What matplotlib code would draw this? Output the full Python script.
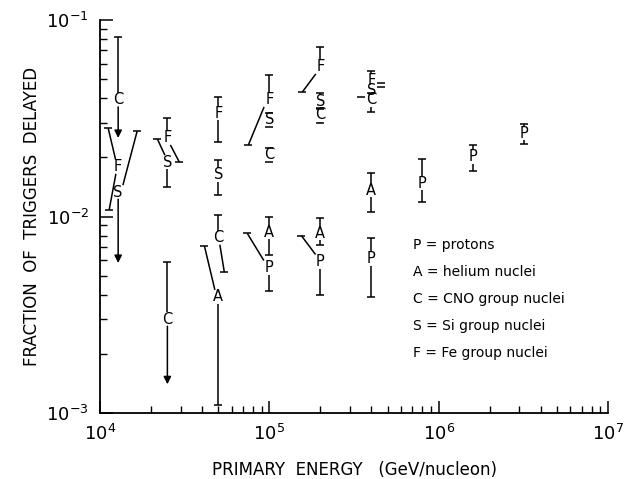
import numpy as np
import matplotlib.pyplot as plt

# one entry per plotted letter: species, energy (GeV/nucleon), fraction and its bounds
letters = ["C", "F", "S",
           "F", "S", "C",
           "F", "S", "C", "A",
           "F", "S", "C", "A", "P",
           "F", "S", "C", "A", "P",
           "F", "S", "C", "A", "P",
           "P", "P", "P"]
energy = [1.28e4, 1.28e4, 1.28e4,
          2.5e4, 2.5e4, 2.5e4,
          5e4, 5e4, 5e4, 5e4,
          1e5, 1e5, 1e5, 1e5, 1e5,
          2e5, 2e5, 2e5, 2e5, 2e5,
          4e5, 4e5, 4e5, 4e5, 4e5,
          8e5, 1.6e6, 3.2e6]
value = [0.0392, 0.0179, 0.0133,
         0.0251, 0.0189, 0.0030,
         0.0336, 0.0163, 0.0078, 0.0039,
         0.0392, 0.0310, 0.0206, 0.0083, 0.0055,
         0.0577, 0.0383, 0.0329, 0.0082, 0.0059,
         0.0495, 0.0440, 0.0392, 0.0136, 0.0061,
         0.0148, 0.0201, 0.0266]
upper = [0.0819, 0.0282, 0.0272,
         0.0317, 0.0248, 0.0059,
         0.0406, 0.0194, 0.0102, 0.0071,
         0.0525, 0.0329, 0.0221, 0.0099, 0.0082,
         0.0729, 0.0425, 0.0356, 0.0098, 0.0080,
         0.0550, 0.0472, 0.0420, 0.0166, 0.0078,
         0.0196, 0.0231, 0.0296]
lower = [0.0251, 0.0108, 0.0058,
         0.0189, 0.0141, 0.0014,
         0.0239, 0.0129, 0.0052, 0.0011,
         0.0231, 0.0285, 0.0189, 0.0064, 0.0042,
         0.0430, 0.0361, 0.0299, 0.0072, 0.0040,
         0.0461, 0.0410, 0.0340, 0.0105, 0.0039,
         0.0119, 0.0171, 0.0234]
# lower end is only a limit (drawn as an arrow)
lower_limit = [True, False, True,
               False, False, True,
               False, False, False, False,
               False, False, False, False, False,
               False, False, False, False, False,
               False, False, False, False, False,
               False, False, False]

legend_lines = ["P = protons", "A = helium nuclei", "C = CNO group nuclei",
                "S = Si group nuclei", "F = Fe group nuclei"]

# sideways shift (pixels) of the bar ends, so crowded bars don't overlap
hi_dx = [0, -10, 19, 0, -10, 0, 0, 0, 0, -14, 0, 0, 0, 0, -22,
         0, 0, 0, 0, -19, 0, 10, 0, 0, 0, 0, 0, 0]
lo_dx = [0, -9, 0, 12, 0, 0, 0, 0, 6, 0, -21, 0, 0, 0, 0,
         -18, 0, 0, 0, 0, 10, -10, 0, 0, 0, 0, 0, 0]

plt.rcParams['font.family'] = 'DejaVu Sans'
fig = plt.figure(figsize=(6.41, 4.79), dpi=100)
ax = fig.add_axes([100 / 641, 66 / 479, 508 / 641, 393 / 479])
ax.set_xscale("log")
ax.set_yscale("log")
ax.set_xlim(1e4, 1e7)
ax.set_ylim(1e-3, 1e-1)

ax.spines["top"].set_visible(False)
ax.spines["right"].set_visible(False)
for s in ["left", "bottom"]:
    ax.spines[s].set_linewidth(1.3)
ax.tick_params(which="major", direction="in", length=9, width=1.1, labelsize=13, pad=8)
ax.tick_params(which="minor", direction="in", length=5, width=1.0)
ax.tick_params(top=False, right=False, which="both")

ax.set_xlabel("PRIMARY  ENERGY   (GeV/nucleon)", fontsize=12, labelpad=12)
ax.set_ylabel("FRACTION  OF  TRIGGERS  DELAYED", fontsize=12, labelpad=4)

to_px = ax.transData.transform
to_data = ax.transData.inverted().transform

gap = 7      # half height of the letter, px
cap = 4      # half width of a cap, px
lw = 1.1

def seg(p0, p1):
    a = to_data(p0)
    b = to_data(p1)
    ax.plot([a[0], b[0]], [a[1], b[1]], color="k", lw=lw, solid_capstyle="butt")

for i in range(len(letters)):
    cx, cy = to_px((energy[i], value[i]))
    ax.text(energy[i], value[i], letters[i], ha="center", va="center", fontsize=10.5)

    # upper bar
    hx, hy = to_px((energy[i], upper[i]))
    hx = cx + hi_dx[i]
    if hy - cy > gap:
        seg((cx + hi_dx[i] * 0.25 if hi_dx[i] else cx, cy + gap), (hx, hy))
    else:
        hy = cy + gap
    seg((hx - cap, hy), (hx + cap, hy))

    # lower bar
    lx, ly = to_px((energy[i], lower[i]))
    lx = cx + lo_dx[i]
    if lower_limit[i]:
        a = to_data((cx, cy - gap))
        b = to_data((lx, ly))
        ax.annotate("", xy=b, xytext=a,
                    arrowprops=dict(arrowstyle="-|>", color="k", lw=lw,
                                    mutation_scale=11, shrinkA=0, shrinkB=0))
        continue
    if cy - ly > gap:
        seg((cx + lo_dx[i] * 0.25 if lo_dx[i] else cx, cy - gap), (lx, ly))
    else:
        ly = cy - gap
    seg((lx - cap, ly), (lx + cap, ly))

for k, line in enumerate(legend_lines):
    fig.text(413 / 641, 1 - (245 + 27 * k) / 479, line, fontsize=10, va="center")

fig.savefig("out.png", dpi=100)
